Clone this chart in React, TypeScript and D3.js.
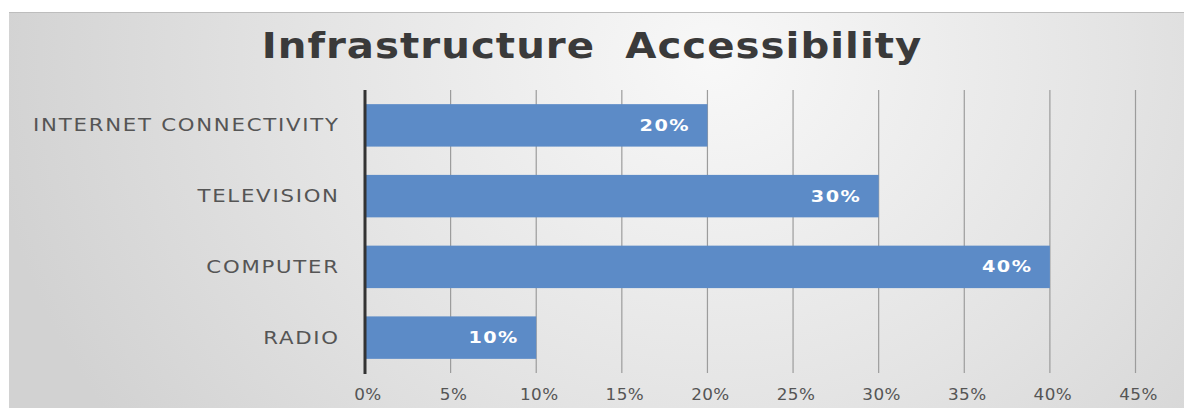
import React from "react";
import * as d3 from "d3";

const categories = ["INTERNET CONNECTIVITY", "TELEVISION", "COMPUTER", "RADIO"];
const values = [20, 30, 40, 10];
const tickValues = [0, 5, 10, 15, 20, 25, 30, 35, 40, 45];
const title = "Infrastructure  Accessibility";

const W = 1184;
const H = 408;

export default function App() {
  const x = d3.scaleLinear().domain([0, 45]).range([365, 1135.5]);
  const y = d3.scaleBand<string>().domain(categories).range([90, 373]).paddingInner(0.4).paddingOuter(0.2);
  const font = "'DejaVu Sans', Verdana, sans-serif";
  const catSpacing = 1.4;
  const catScale = 1.25;
  const barSpacing = 1.2;
  const barScale = 1.2;
  return (
    <svg width={W} height={H} style={{ position: "absolute", left: 0, top: 0, display: "block" }}>
      <defs>
        <radialGradient id="bg" cx="0.6" cy="0.12" r="0.62" gradientTransform="translate(0.6,0.12) scale(1,2.6) translate(-0.6,-0.12)">
          <stop offset="0" stopColor="#f8f8f8" />
          <stop offset="0.55" stopColor="#e4e4e4" />
          <stop offset="1" stopColor="#d2d2d2" />
        </radialGradient>
      </defs>
      <rect x={0} y={0} width={W} height={H} fill="#ffffff" />
      <rect x={9} y={12} width={W - 9} height={H - 12} fill="url(#bg)" />
      <line x1={9} x2={W} y1={12.5} y2={12.5} stroke="#bdbdbd" strokeWidth={1} />
      <text
        transform="translate(592,58) scale(1.12,1)"
        textAnchor="middle"
        fontFamily={font}
        fontWeight={700}
        fontSize={36}
        letterSpacing={0.9}
        fill="#3a3a3a"
        style={{ whiteSpace: "pre" }}
      >
        {title}
      </text>
      {tickValues.filter((t) => t > 0).map((t) => (
        <line key={t} x1={x(t)} x2={x(t)} y1={90} y2={373} stroke="#9c9c9c" strokeWidth={1.2} />
      ))}
      {categories.map((c, i) => {
        const cy = (y(c) as number) + y.bandwidth() / 2;
        return (
          <g key={c}>
            <rect x={x(0)} y={y(c)} width={x(values[i]) - x(0)} height={y.bandwidth()} fill="#5c8bc7" />
            <text
              transform={`translate(${x(values[i]) - 19},${cy}) scale(${barScale},1)`}
              x={barSpacing}
              dy="0.35em"
              textAnchor="end"
              fontFamily={font}
              fontWeight={700}
              fontSize={16}
              letterSpacing={barSpacing}
              fill="#ffffff"
            >
              {values[i]}%
            </text>
            <text
              transform={`translate(338,${cy}) scale(${catScale},1)`}
              x={catSpacing}
              dy="0.35em"
              textAnchor="end"
              fontFamily={font}
              fontSize={17}
              letterSpacing={catSpacing}
              fill="#555555"
            >
              {c}
            </text>
          </g>
        );
      })}
      <line x1={x(0)} x2={x(0)} y1={90} y2={374} stroke="#333333" strokeWidth={3} />
      {tickValues.map((t) => (
        <text
          key={t}
          transform={`translate(${x(t) + 3},395) scale(1.12,1)`}
          dy="0.35em"
          textAnchor="middle"
          fontFamily={font}
          fontSize={15}
          letterSpacing={0.4}
          fill="#555555"
        >
          {t}%
        </text>
      ))}
    </svg>
  );
}
